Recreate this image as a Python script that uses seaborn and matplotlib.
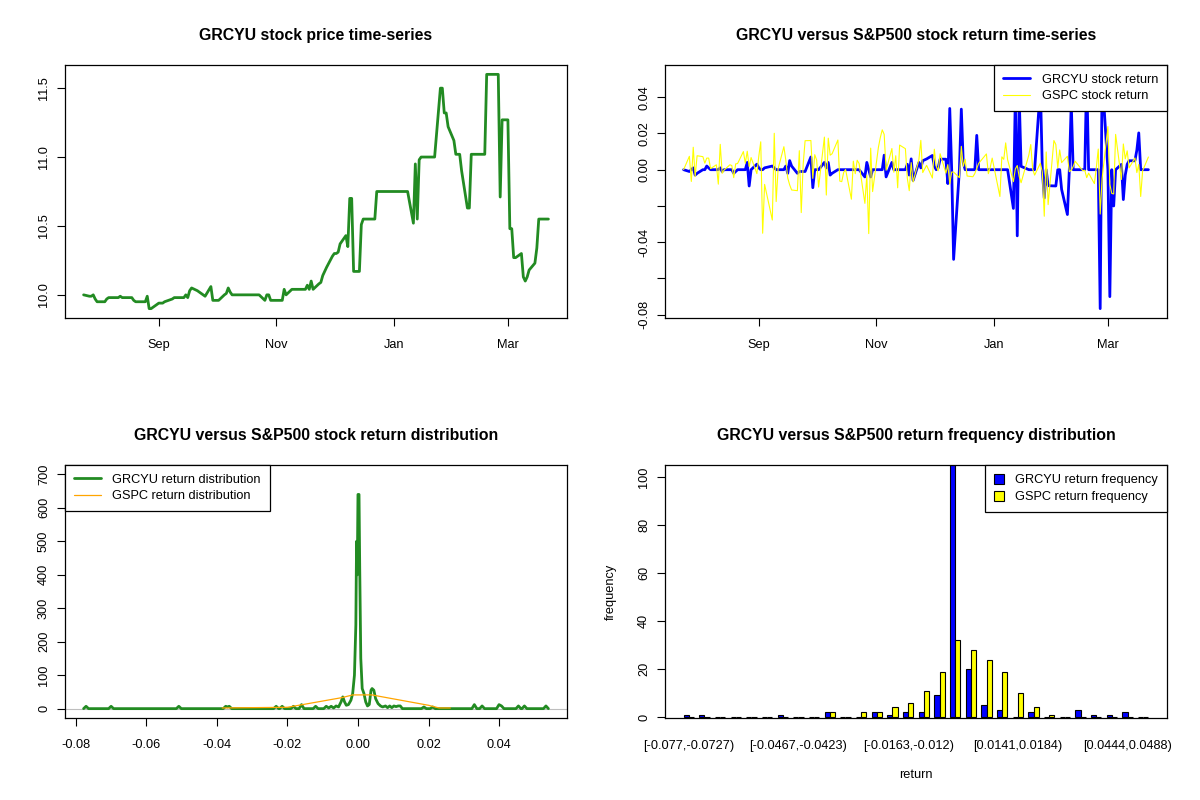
import matplotlib
matplotlib.use("Agg")
import matplotlib.pyplot as plt
import matplotlib.dates as mdates
from matplotlib.patches import Patch
import numpy as np
import pandas as pd
import seaborn as sns

# ---------------------------------------------------------------------------
# Data
# ---------------------------------------------------------------------------
START, END = "2020-07-24", "2021-03-22"
HOLIDAYS = ["2020-09-07", "2020-11-26", "2020-12-25", "2021-01-01", "2021-01-18", "2021-02-15"]

# GRCYU closing price, one value per trading day (Jul .. Mar)
grcyu_price = [
    10.00, 9.99, 9.99, 10.00, 9.97, 9.95,
    9.95, 9.95, 9.97, 9.98, 9.98, 9.98, 9.98, 9.99, 9.98, 9.98, 9.98, 9.98, 9.96, 9.95, 9.95,
    9.95, 9.95, 9.99, 9.90, 9.90, 9.93,
    9.94, 9.94, 9.94, 9.95, 9.97, 9.98, 9.98, 9.98, 9.98, 10.00, 9.98, 10.03, 10.05, 10.03, 10.02,
    10.01, 10.00, 9.99, 10.06, 9.96, 9.96,
    9.96, 9.96, 10.00, 10.01, 10.05, 10.02, 10.00, 10.00, 10.00, 10.00, 10.00, 10.00, 10.00, 10.00,
    10.00, 10.00, 10.00, 9.96, 10.00, 10.00, 9.96, 9.96,
    9.96, 9.96, 9.96, 10.04, 10.00, 10.04, 10.04, 10.04, 10.04, 10.04, 10.04, 10.07, 10.04, 10.10,
    10.04, 10.08, 10.09, 10.14, 10.20, 10.28,
    10.30, 10.30, 10.31, 10.37, 10.43, 10.35, 10.70, 10.70, 10.17, 10.17, 10.51, 10.55, 10.55, 10.55,
    10.55, 10.55, 10.75, 10.75, 10.75, 10.75, 10.75, 10.75,
    10.75, 10.75, 10.75, 10.75, 10.75, 10.52, 10.95, 10.55, 10.98, 11.00, 11.00, 11.00, 11.00, 11.00,
    11.50, 11.50, 11.32, 11.32, 11.22,
    11.12, 11.02, 11.02, 11.02, 10.90, 10.63, 10.63, 11.02, 11.02, 11.02, 11.02, 11.02, 11.60, 11.60,
    11.60, 11.60, 11.60, 10.71, 11.27,
    11.27, 10.48, 10.48, 10.27, 10.27, 10.30, 10.13, 10.10, 10.13, 10.18, 10.23, 10.34, 10.55, 10.55,
    10.55, 10.55,
]

# S&P500 daily return, same trading days (first day drawn at 0)
gspc_return = [
    0.0, 0.0074, -0.0065, 0.0124, -0.0038, 0.0077,
    0.0072, 0.0036, 0.0064, 0.0064, 0.0006, 0.0027, -0.0080, 0.0140, -0.0020, -0.0002, 0.0027,
    0.0023, -0.0044, 0.0032, 0.0034, 0.0100, 0.0036, 0.0102, 0.0017, 0.0067, -0.0022,
    0.0075, 0.0154, -0.0351, -0.0081, -0.0278, 0.0201, -0.0176, 0.0005, 0.0127, 0.0052, -0.0046,
    -0.0084, -0.0112, -0.0116, 0.0105, -0.0237, 0.0030, 0.0160, 0.0161, -0.0048, 0.0083,
    0.0053, -0.0096, 0.0180, -0.0140, 0.0174, 0.0080, 0.0088, 0.0164, -0.0063, -0.0066, -0.0015,
    0.0001, -0.0163, 0.0047, -0.0022, 0.0052, 0.0034, -0.0186, -0.0030, -0.0353, 0.0119, -0.0121,
    0.0123, 0.0178, 0.0220, 0.0195, -0.0003, 0.0117, -0.0014, 0.0077, -0.0100, 0.0136, 0.0116,
    -0.0048, -0.0116, 0.0039, -0.0068, 0.0056, 0.0162, -0.0016, 0.0024, -0.0046,
    0.0113, 0.0018, -0.0006, 0.0088, -0.0019, 0.0028, -0.0079, -0.0013, -0.0013, -0.0044, 0.0129,
    0.0018, 0.0058, -0.0035, -0.0039, -0.0021, 0.0007, 0.0035, 0.0087, -0.0022, 0.0013, 0.0064,
    -0.0148, 0.0071, 0.0057, 0.0148, 0.0055, -0.0066, 0.0004, 0.0023, -0.0038, -0.0072, 0.0081,
    0.0139, 0.0003, -0.0030, 0.0036, -0.0015, -0.0257, 0.0098, -0.0193,
    0.0161, 0.0139, 0.0010, 0.0109, 0.0039, 0.0074, -0.0011, -0.0003, 0.0017, 0.0047, -0.0006,
    -0.0003, -0.0044, -0.0019, -0.0077, 0.0013, 0.0114, -0.0245, -0.0048,
    0.0238, -0.0081, -0.0131, -0.0134, 0.0195, -0.0054, 0.0142, 0.0060, 0.0104, 0.0010, 0.0065,
    -0.0016, 0.0029, -0.0148, -0.0006, 0.0070,
]

# density curves (return -> density)
grcyu_dens_x = [
    -0.0778, -0.0771, -0.0764, -0.0707, -0.0700, -0.0693, -0.0515, -0.0508, -0.0501,
    -0.0382, -0.0375, -0.0370, -0.0365, -0.0358, -0.0239, -0.0232, -0.0225,
    -0.0222, -0.0215, -0.0208, -0.0190, -0.0183, -0.0176, -0.0167, -0.0160, -0.0153,
    -0.0127, -0.0120, -0.0113, -0.0097, -0.0090, -0.0083, -0.0076, -0.0069, -0.0062, -0.0055,
    -0.0048, -0.0043, -0.0038, -0.0033, -0.0027, -0.0020, -0.0015, -0.0010, -0.0006, -0.0004,
    -0.0002, 0.0000, 0.0003, 0.0005, 0.0008, 0.0012, 0.0017, 0.0022, 0.0027, 0.0032, 0.0037,
    0.0040, 0.0045, 0.0050, 0.0057, 0.0064, 0.0070, 0.0078, 0.0084, 0.0090, 0.0096, 0.0102,
    0.0108, 0.0114, 0.0120, 0.0126, 0.0180, 0.0187, 0.0194, 0.0205, 0.0212, 0.0219,
    0.0323, 0.0330, 0.0337, 0.0345, 0.0352, 0.0359, 0.0393, 0.0400, 0.0407, 0.0414,
    0.0448, 0.0455, 0.0462, 0.0465, 0.0472, 0.0479, 0.0526, 0.0533, 0.0540,
]
grcyu_dens_y = [
    0, 7, 0, 0, 7, 0, 0, 7, 0,
    0, 7, 5, 7, 0, 0, 7, 0,
    0, 7, 0, 0, 7, 0, 0, 12, 0,
    0, 7, 0, 0, 7, 2, 7, 2, 8, 5,
    20, 35, 20, 10, 12, 25, 45, 100, 250, 500,
    400, 640, 640, 420, 150, 60, 45, 20, 8, 12, 55,
    60, 55, 30, 15, 8, 5, 8, 3, 8, 3, 8,
    6, 8, 8, 0, 0, 5, 0, 0, 5, 0,
    0, 12, 0, 0, 8, 0, 0, 12, 8, 0,
    0, 8, 0, 0, 8, 0, 0, 8, 0,
]
gspc_dens_x = [-0.0385, -0.0200, -0.0045, -0.0015, 0.0040, 0.0065, 0.0200, 0.0230, 0.0262]
gspc_dens_y = [2, 4, 33, 41, 41, 36, 10, 2, 2]

# frequency per return bin (30 bins)
grcyu_freq = [1, 1, 0, 0, 0, 0, 1, 0, 0, 2, 0, 0, 2, 1, 2, 2, 9, 106, 20, 5, 3, 0, 2, 0, 0, 3, 1, 1, 2, 0]
gspc_freq = [0, 0, 0, 0, 0, 0, 0, 0, 0, 2, 0, 2, 2, 4, 6, 11, 19, 32, 28, 24, 19, 10, 4, 1, 0, 0, 0, 0, 0, 0]
bin_tick_idx = [0, 7, 14, 21, 28]
bin_tick_labels = ["[-0.077,-0.0727)", "[-0.0467,-0.0423)", "[-0.0163,-0.012)",
                   "[0.0141,0.0184)", "[0.0444,0.0488)"]

# ---------------------------------------------------------------------------
# Styling
# ---------------------------------------------------------------------------
sns.set_theme(style="white")
plt.rcParams["font.family"] = ["Liberation Sans", "DejaVu Sans"]
plt.rcParams.update({"text.color": "black", "axes.labelcolor": "black",
                     "xtick.color": "black", "ytick.color": "black"})

FS = 9.2
W, H = 1200, 800


def box(l, t, r, b):
    return [l / W, 1 - b / H, (r - l) / W, (b - t) / H]


def r_lim(lo, hi):
    pad = 0.04 * (hi - lo)
    return lo - pad, hi + pad


def r_style(ax, title):
    ax.set_title(title, fontsize=11.4, fontweight="bold", pad=18, color="black")
    for s in ax.spines.values():
        s.set_visible(True)
        s.set_color("black")
        s.set_linewidth(0.9)
    ax.tick_params(axis="both", direction="out", length=5.8, width=0.8, colors="black",
                   labelsize=FS, bottom=True, left=True, pad=5)
    ax.tick_params(axis="x", pad=9.5)
    ax.tick_params(axis="y", labelrotation=90)
    ax.grid(False)
    ax.set_xlabel("")
    ax.set_ylabel("")


def r_legend(ax, **kw):
    leg = ax.legend(fontsize=FS, frameon=True, fancybox=False, framealpha=1, edgecolor="black",
                    borderaxespad=0, borderpad=0.7, labelspacing=0.35, handletextpad=0.9, **kw)
    leg.get_frame().set_linewidth(0.9)
    return leg


trade_dates = pd.bdate_range(START, END)
trade_dates = trade_dates[~trade_dates.isin(pd.to_datetime(HOLIDAYS))]
assert len(trade_dates) == len(grcyu_price) == len(gspc_return)

df = pd.DataFrame({"date": trade_dates, "price": grcyu_price, "GSPC": gspc_return})
df["GRCYU"] = df["price"].pct_change().fillna(0)

fig = plt.figure(figsize=(12, 8), dpi=100)
ax1 = fig.add_axes(box(65, 65, 567, 318))
ax2 = fig.add_axes(box(665, 65, 1167, 318))
ax3 = fig.add_axes(box(65, 465, 567, 718))
ax4 = fig.add_axes(box(665, 465, 1167, 718))

date_lim = r_lim(mdates.date2num(trade_dates[0]), mdates.date2num(trade_dates[-1]))

# 1. price time-series
sns.lineplot(data=df, x="date", y="price", ax=ax1, color="#228B22", linewidth=2.0, estimator=None)
r_style(ax1, "GRCYU stock price time-series")
ax1.set_xlim(date_lim)
ax1.set_ylim(r_lim(df["price"].min(), df["price"].max()))
ax1.set_yticks([10.0, 10.5, 11.0, 11.5], labels=["10.0", "10.5", "11.0", "11.5"])

# 2. return time-series
sns.lineplot(data=df, x="date", y="GRCYU", ax=ax2, color="blue", linewidth=2.0,
             estimator=None, label="GRCYU stock return")
sns.lineplot(data=df, x="date", y="GSPC", ax=ax2, color="yellow", linewidth=0.8,
             estimator=None, label="GSPC stock return")
r_style(ax2, "GRCYU versus S&P500 stock return time-series")
ax2.set_xlim(date_lim)
lo = min(df["GRCYU"].min(), df["GSPC"].min())
hi = max(df["GRCYU"].max(), df["GSPC"].max())
ax2.set_ylim(r_lim(lo, hi))
ax2.set_yticks([-0.08, -0.06, -0.04, -0.02, 0.0, 0.02, 0.04],
               labels=["-0.08", "", "-0.04", "", "0.00", "0.02", "0.04"])
r_legend(ax2, loc="upper right", handlelength=2.1)

for ax in (ax1, ax2):
    ax.xaxis.set_major_locator(mdates.MonthLocator(bymonth=[9, 11, 1, 3]))
    ax.xaxis.set_major_formatter(mdates.DateFormatter("%b"))

# 3. return distribution
sns.lineplot(x=grcyu_dens_x, y=grcyu_dens_y, ax=ax3, color="#228B22", linewidth=2.0,
             estimator=None, sort=False, label="GRCYU return distribution")
ax3.axhline(0, color="#BEBEBE", linewidth=0.8, zorder=1.5)
sns.lineplot(x=gspc_dens_x, y=gspc_dens_y, ax=ax3, color="orange", linewidth=0.9,
             estimator=None, sort=False, label="GSPC return distribution")
r_style(ax3, "GRCYU versus S&P500 stock return distribution")
ax3.set_xlim(r_lim(min(grcyu_dens_x), max(grcyu_dens_x)))
ax3.set_ylim(r_lim(0, 700))
ax3.set_yticks(range(0, 701, 100))
ax3.set_xticks([-0.08, -0.06, -0.04, -0.02, 0.0, 0.02, 0.04],
               labels=["-0.08", "-0.06", "-0.04", "-0.02", "0.00", "0.02", "0.04"])
r_legend(ax3, loc="upper left", handlelength=2.1)

# 4. return frequency
n_bins = len(grcyu_freq)
freq = pd.DataFrame({
    "bin": list(range(n_bins)) * 2,
    "series": ["GRCYU"] * n_bins + ["GSPC"] * n_bins,
    "count": grcyu_freq + gspc_freq,
})
sns.barplot(data=freq, x="bin", y="count", hue="series", ax=ax4,
            palette={"GRCYU": "blue", "GSPC": "yellow"}, width=2 / 3, saturation=1,
            edgecolor="black", linewidth=0.8, legend=False)
r_style(ax4, "GRCYU versus S&P500 return frequency distribution")
ax4.set_xlim(r_lim(-1 / 3, n_bins - 1 + 1 / 3))
ax4.set_ylim(-0.4, 105.2)
ax4.set_yticks(range(0, 101, 20))
ax4.set_xticks(bin_tick_idx, labels=bin_tick_labels)
ax4.tick_params(axis="x", length=0, pad=16)
ax4.set_xlabel("return", fontsize=FS)
ax4.set_ylabel("frequency", fontsize=FS)
ax4.xaxis.set_label_coords(0.5, -57 / 253)
ax4.xaxis.label.set_va("center")
ax4.yaxis.set_label_coords(-54 / 502, 0.5)
ax4.yaxis.label.set_va("center")
handles = [Patch(facecolor="blue", edgecolor="black", linewidth=0.8),
           Patch(facecolor="yellow", edgecolor="black", linewidth=0.8)]
r_legend(ax4, handles=handles, labels=["GRCYU return frequency", "GSPC return frequency"],
         loc="upper right", handlelength=0.8, handleheight=0.8)

for ax in (ax1, ax2, ax3, ax4):
    plt.setp(ax.get_yticklabels(), va="center")

fig.savefig("out.png", dpi=100, facecolor="white")
